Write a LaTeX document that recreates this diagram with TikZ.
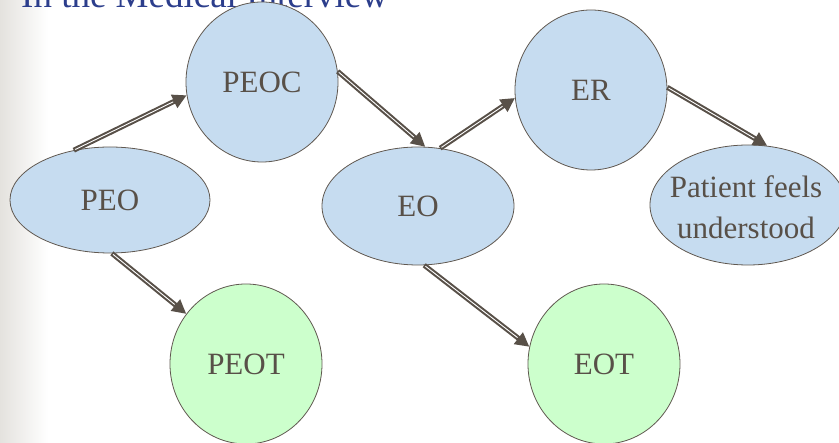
\documentclass[tikz,border=0pt]{standalone}
\usepackage{fontspec}
\setmainfont{Liberation Serif}
\usetikzlibrary{shapes.geometric,arrows.meta}
\definecolor{bluefill}{RGB}{198,220,240}
\definecolor{greenfill}{RGB}{204,255,204}
\definecolor{edgec}{RGB}{96,88,80}
\definecolor{textc}{RGB}{88,80,72}
\definecolor{arrowc}{RGB}{88,80,72}
\definecolor{titlec}{RGB}{44,62,140}
\definecolor{bgl}{RGB}{228,226,222}
\tikzset{
  blob/.style={ellipse, draw=edgec, line width=0.8pt, inner sep=0pt,
    font=\fontsize{31}{40}\selectfont, text=textc, align=center},
  bluen/.style={blob, fill=bluefill},
  greenn/.style={blob, fill=greenfill},
  lbl/.style={font=\fontsize{31}{41}\selectfont, text=textc, align=center, inner sep=0pt},
  arr/.style={line width=5pt, draw=arrowc, -{Triangle[length=14pt,width=14pt]},
    postaction={draw=white, line width=0.9pt, shorten >=15pt, shorten <=1.5pt, -}}
}
\begin{document}
\begin{tikzpicture}[x=1pt,y=-1pt]
\useasboundingbox (0,0) rectangle (839,443);
\clip (0,0) rectangle (839,443);
\shade[left color=bgl, right color=white] (0,0) rectangle (48,443);
\fill[white] (48,0) rectangle (839,443);
\node[anchor=base west, text=titlec, font=\fontsize{37}{40}\selectfont, inner sep=0pt] (title) at (21,8) {In the Medical Interview};
\node[bluen, minimum width=200pt, minimum height=106pt] (peo) at (110,200) {PEO};
\node[bluen, minimum width=152pt, minimum height=160pt] (peoc) at (262,82) {PEOC};
\node[bluen, minimum width=192pt, minimum height=118pt] (eo) at (418,206) {EO};
\node[bluen, minimum width=152pt, minimum height=160pt] (er) at (591,90) {ER};
\node[bluen, minimum width=196pt, minimum height=120pt] (pfu) at (748,205) {};
\node[lbl] (pfutext) at (746,207) {Patient feels\\understood};
\node[greenn, minimum width=152pt, minimum height=160pt] (peot) at (246,364) {PEOT};
\node[greenn, minimum width=152pt, minimum height=160pt] (eot) at (604,364) {EOT};
\draw[arr] (peo.126) -- (peoc.190);
\draw[arr] (peoc.8) -- (eo.83);
\draw[arr] (eo.69) -- (er.186);
\draw[arr] (er.2) -- (pfu.72);
\draw[arr] (peo.-88) -- (peot.140);
\draw[arr] (eo.-84) -- (eot.167);
\end{tikzpicture}
\end{document}
